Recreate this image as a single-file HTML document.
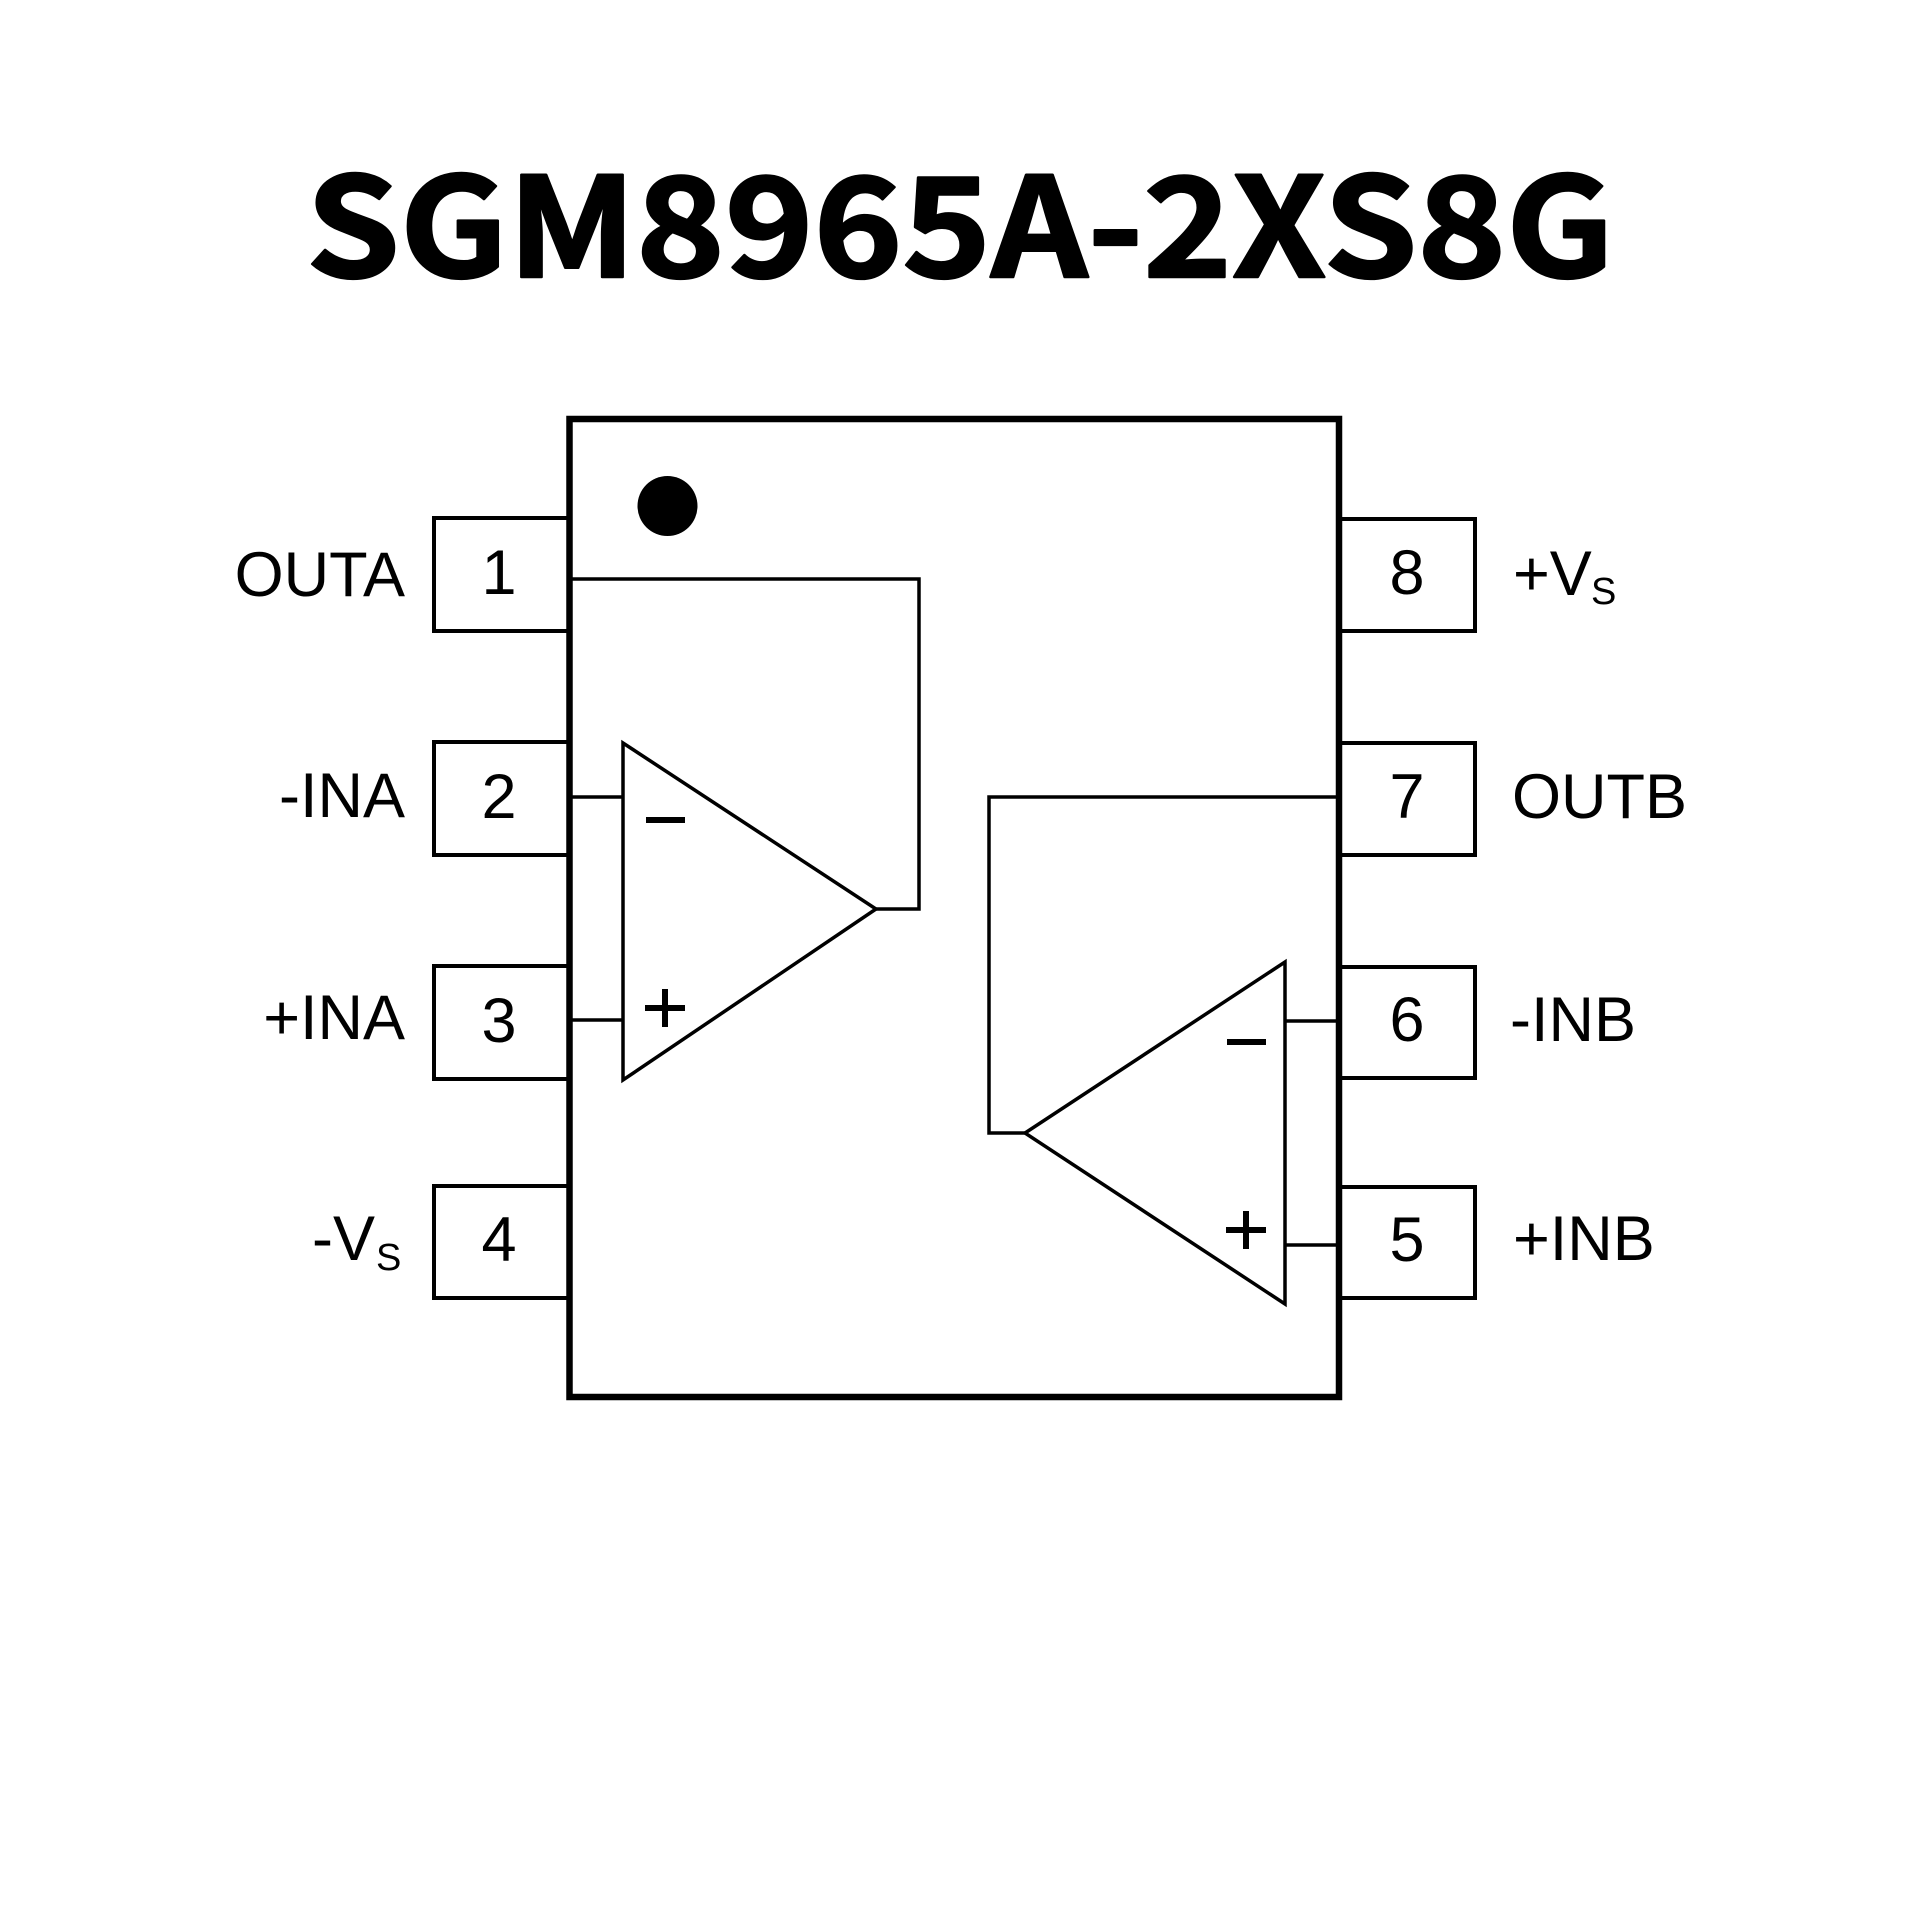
<!DOCTYPE html>
<html>
<head>
<meta charset="utf-8">
<style>
  html, body { margin: 0; padding: 0; background: #fff; }
  svg { display: block; }
  text { font-family: "Liberation Sans", Arial, sans-serif; fill: #000; }
  text.title { font-family: "Noto Sans CJK SC", "Liberation Sans", sans-serif; font-weight: bold; stroke: #000; stroke-width: 2.5; stroke-linejoin: round; }
</style>
</head>
<body>
<svg width="1920" height="1920" viewBox="0 0 1920 1920" xmlns="http://www.w3.org/2000/svg">
  <rect width="1920" height="1920" fill="#fff"/>

  <!-- Title -->
  <text class="title" x="306" y="277" font-size="138" textLength="1308" lengthAdjust="spacingAndGlyphs">SGM8965A-2XS8G</text>

  <!-- IC body -->
  <rect x="569.5" y="419" width="769.5" height="978" fill="none" stroke="#000" stroke-width="6.5"/>

  <!-- Pin-1 dot -->
  <circle cx="667.5" cy="506" r="30" fill="#000"/>

  <!-- Left pin boxes -->
  <g fill="none" stroke="#000" stroke-width="4">
    <path d="M569 518 H434 V631 H569"/>
    <path d="M569 742 H434 V855 H569"/>
    <path d="M569 966 H434 V1079 H569"/>
    <path d="M569 1186 H434 V1298 H569"/>
  </g>

  <!-- Right pin boxes -->
  <g fill="none" stroke="#000" stroke-width="4">
    <path d="M1339 519 H1475 V631 H1339"/>
    <path d="M1339 743 H1475 V855 H1339"/>
    <path d="M1339 967 H1475 V1078 H1339"/>
    <path d="M1339 1187 H1475 V1298 H1339"/>
  </g>

  <!-- Op-amp A -->
  <g fill="none" stroke="#000" stroke-width="3.5">
    <polyline points="569,579 919,579 919,909 876,909"/>
    <polygon points="623,743 623,1080 876,909" stroke-linejoin="miter"/>
    <line x1="569" y1="797" x2="623" y2="797"/>
    <line x1="569" y1="1020" x2="623" y2="1020"/>
  </g>
  <rect x="646" y="817" width="39" height="6" fill="#000"/>
  <rect x="645" y="1005" width="40" height="6" fill="#000"/>
  <rect x="662" y="989" width="6" height="38" fill="#000"/>

  <!-- Op-amp B -->
  <g fill="none" stroke="#000" stroke-width="3.5">
    <polyline points="1339,797 989,797 989,1133 1025,1133"/>
    <polygon points="1285,962 1285,1304 1025,1133" stroke-linejoin="miter"/>
    <line x1="1285" y1="1021" x2="1339" y2="1021"/>
    <line x1="1285" y1="1245" x2="1339" y2="1245"/>
  </g>
  <rect x="1227" y="1039" width="39" height="6" fill="#000"/>
  <rect x="1226" y="1227" width="40" height="6" fill="#000"/>
  <rect x="1243" y="1211" width="6" height="38" fill="#000"/>

  <!-- Pin numbers -->
  <g font-size="63" text-anchor="middle">
    <text x="499" y="594">1</text>
    <text x="499" y="818">2</text>
    <text x="499" y="1042">3</text>
    <text x="499" y="1261">4</text>
    <text x="1407" y="594">8</text>
    <text x="1407" y="818">7</text>
    <text x="1407" y="1041">6</text>
    <text x="1407" y="1261">5</text>
  </g>

  <!-- Left labels -->
  <g font-size="63" text-anchor="end">
    <text x="405" y="596">OUTA</text>
    <text x="405" y="817">-INA</text>
    <text x="405" y="1039">+INA</text>
  </g>
  <text x="312" y="1260" font-size="63">-V</text>
  <text x="376" y="1270" font-size="38">S</text>

  <!-- Right labels -->
  <text x="1513" y="595" font-size="63">+V</text>
  <text x="1591" y="604" font-size="38">S</text>
  <text x="1512" y="818" font-size="63">OUTB</text>
  <text x="1510" y="1041" font-size="63">-INB</text>
  <text x="1513" y="1260" font-size="63">+INB</text>
</svg>
</body>
</html>
